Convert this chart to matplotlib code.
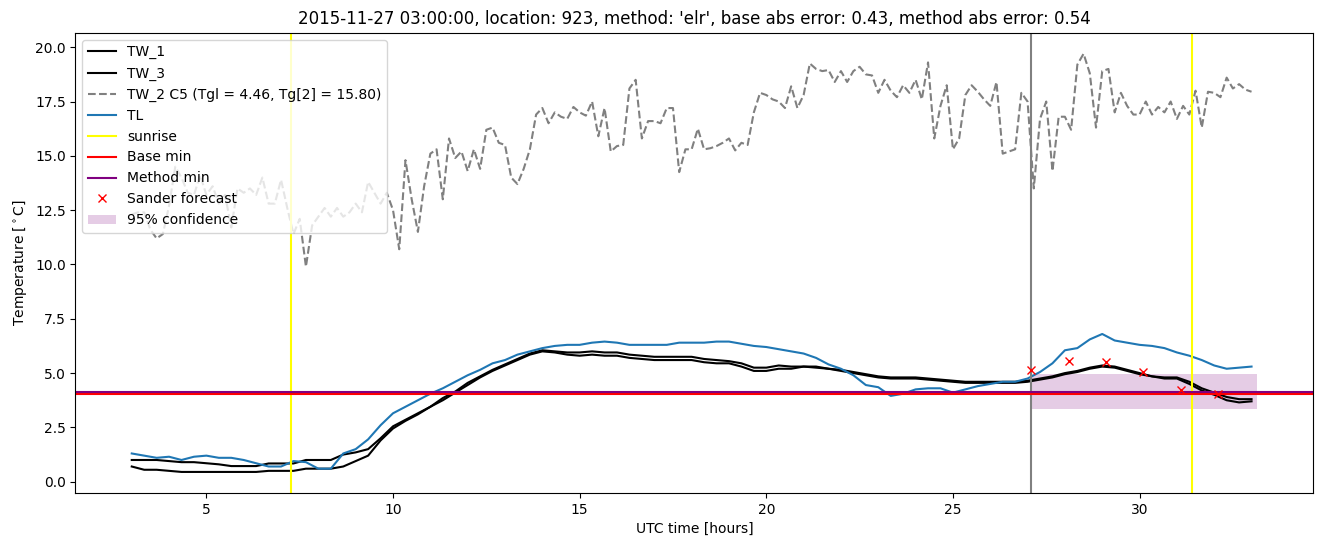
import numpy as np
import matplotlib
matplotlib.use("Agg")
import matplotlib.pyplot as plt

# 10-minute samples for TW_2, 20-minute samples for the rest
hours_tw2 = 3 + np.arange(181) / 6
hours = 3 + np.arange(91) / 3

tw2 = [
    12.3, 12.4, 12.4, 11.6, 11.2, 11.4,
    12.7, 14.5, 14.0, 13.3, 13.2, 14.1,
    13.2, 13.6, 12.8, 13.2, 11.7, 13.5,
    13.3, 13.5, 13.2, 14.0, 12.8, 12.8,
    13.9, 12.6, 11.4, 12.1, 9.9, 11.8,
    12.2, 12.6, 12.2, 12.6, 12.2, 12.4,
    12.8, 12.4, 13.8, 13.3, 12.8, 13.3,
    12.5, 10.7, 14.8, 13.0, 11.5, 13.6,
    15.1, 15.3, 13.0, 15.8, 14.9, 15.2,
    14.3, 15.3, 14.4, 16.2, 16.3, 15.6,
    15.5, 14.0, 13.7, 14.4, 15.3, 16.9,
    17.2, 16.5, 17.0, 16.8, 16.7, 17.25,
    17.0, 16.85, 17.5, 15.9, 17.2, 15.2,
    15.45, 15.5, 18.1, 18.5, 15.8, 16.6,
    16.6, 16.5, 17.2, 17.2, 14.25, 15.3,
    15.3, 16.25, 15.3, 15.35, 15.45, 15.6,
    15.8, 15.25, 15.6, 15.5, 17.0, 17.9,
    17.8, 17.6, 17.5, 17.2, 18.2, 17.2,
    17.8, 19.25, 19.0, 18.9, 18.95, 18.4,
    18.9, 18.4, 18.9, 19.1, 18.75, 18.7,
    17.9, 18.5, 18.0, 17.7, 18.25, 17.9,
    18.5, 17.6, 19.3, 15.8, 17.3, 18.25,
    15.3, 15.8, 17.8, 18.25, 17.95, 17.6,
    17.3, 18.4, 15.1, 15.2, 15.3, 17.9,
    17.5, 13.5, 16.7, 17.5, 14.3, 16.8,
    16.8, 16.2, 19.2, 19.7, 18.8, 16.3,
    18.9, 19.0, 17.0, 17.9, 17.3, 16.9,
    16.9, 17.5, 16.9, 17.25, 17.0, 17.5,
    16.7, 17.3, 16.9, 18.0, 16.3, 17.95,
    17.9, 17.7, 18.6, 18.1, 18.3, 18.05,
    17.95,
]

tl = [
    1.3, 1.2, 1.1, 1.15, 1.0, 1.15, 1.2, 1.1, 1.1, 1.0,
    0.85, 0.7, 0.7, 0.95, 0.9, 0.6, 0.6, 1.3, 1.5, 1.95,
    2.6, 3.15, 3.45, 3.75, 4.05, 4.3, 4.6, 4.9, 5.15, 5.45,
    5.6, 5.85, 6.0, 6.15, 6.25, 6.3, 6.3, 6.4, 6.45, 6.4,
    6.3, 6.3, 6.3, 6.3, 6.4, 6.4, 6.4, 6.45, 6.45, 6.35,
    6.25, 6.2, 6.1, 6.0, 5.9, 5.7, 5.4, 5.2, 4.9, 4.45,
    4.35, 3.95, 4.05, 4.25, 4.3, 4.3, 4.1, 4.25, 4.4, 4.5,
    4.6, 4.6, 4.75, 5.05, 5.45, 6.05, 6.15, 6.55, 6.8, 6.5,
    6.4, 6.3, 6.25, 6.15, 5.95, 5.8, 5.6, 5.35, 5.2, 5.25,
    5.3,
]

tw1 = [
    1.0, 1.0, 1.0, 0.95, 0.9, 0.9, 0.85, 0.8, 0.72, 0.72,
    0.72, 0.84, 0.84, 0.84, 1.0, 1.0, 1.0, 1.25, 1.35, 1.5,
    2.0, 2.55, 2.85, 3.15, 3.45, 3.85, 4.15, 4.55, 4.85, 5.15,
    5.4, 5.65, 5.9, 6.05, 6.0, 5.95, 5.95, 6.0, 5.95, 5.95,
    5.85, 5.8, 5.75, 5.75, 5.75, 5.75, 5.65, 5.6, 5.55, 5.45,
    5.25, 5.25, 5.35, 5.3, 5.3, 5.25, 5.2, 5.15, 5.05, 4.95,
    4.85, 4.8, 4.8, 4.8, 4.75, 4.7, 4.65, 4.6, 4.6, 4.6,
    4.6, 4.6, 4.65, 4.75, 4.85, 5.0, 5.1, 5.25, 5.35, 5.3,
    5.15, 5.0, 4.85, 4.8, 4.8, 4.6, 4.3, 4.1, 3.9, 3.8,
    3.8,
]

tw3 = [
    0.7, 0.55, 0.55, 0.5, 0.45, 0.45, 0.45, 0.45, 0.45, 0.45,
    0.45, 0.5, 0.5, 0.5, 0.6, 0.6, 0.6, 0.7, 0.95, 1.2,
    1.9, 2.45, 2.8, 3.1, 3.45, 3.75, 4.1, 4.45, 4.8, 5.1,
    5.35, 5.6, 5.85, 6.0, 5.95, 5.85, 5.8, 5.85, 5.8, 5.8,
    5.7, 5.65, 5.6, 5.6, 5.6, 5.6, 5.5, 5.45, 5.45, 5.3,
    5.1, 5.1, 5.2, 5.2, 5.3, 5.3, 5.2, 5.1, 5.0, 4.9,
    4.8, 4.75, 4.75, 4.75, 4.7, 4.65, 4.6, 4.55, 4.55, 4.55,
    4.55, 4.55, 4.6, 4.7, 4.8, 4.95, 5.05, 5.2, 5.3, 5.25,
    5.1, 4.95, 4.85, 4.75, 4.75, 4.5, 4.2, 4.0, 3.75, 3.65,
    3.7,
]

sunrise = [7.27, 31.4]
now_time = 27.1
base_min = 4.05
method_min = 4.12

sander_hours = [27.1, 28.1, 29.1, 30.1, 31.1, 32.1]
sander_temps = [5.13, 5.55, 5.5, 5.03, 4.24, 4.03]

conf_hours = [27.1, 33.15]
conf_low = 3.36
conf_high = 4.95

fig, ax = plt.subplots(figsize=(13.24, 5.47), dpi=100)

ax.plot(hours, tw1, color='black', label='TW_1')
ax.plot(hours, tw3, color='black', label='TW_3')
ax.plot(hours_tw2, tw2, color='gray', linestyle='--',
        label='TW_2 C5 (Tgl = 4.46, Tg[2] = 15.80)')
ax.plot(hours, tl, color='C0', label='TL')
for i, s in enumerate(sunrise):
    ax.axvline(s, color='yellow', label='sunrise' if i == 0 else None)
ax.axvline(now_time, color='gray')
ax.axhline(base_min, color='red', label='Base min')
ax.axhline(method_min, color='purple', label='Method min')
ax.plot(sander_hours, sander_temps, 'x', color='red', label='Sander forecast')
ax.fill_between(conf_hours, conf_low, conf_high, color='purple', alpha=0.2,
                linewidth=0, label='95% confidence')

ax.set_xlabel('UTC time [hours]')
ax.set_ylabel('Temperature [$^\\circ$C]')
ax.set_title("2015-11-27 03:00:00, location: 923, method: 'elr', "
             "base abs error: 0.43, method abs error: 0.54")
ax.legend(loc='upper left')

plt.subplots_adjust(left=0.057, right=0.992, top=0.94, bottom=0.099)
plt.savefig('out.png')
